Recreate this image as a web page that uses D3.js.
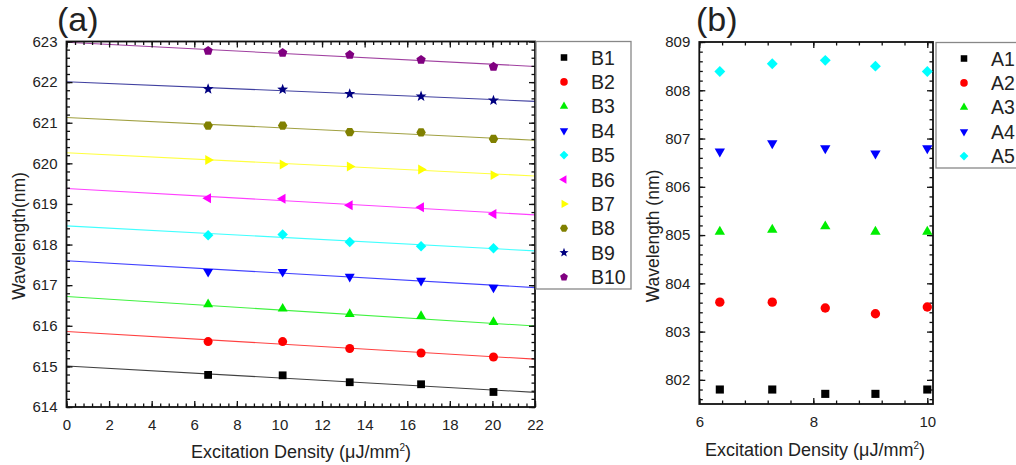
<!DOCTYPE html>
<html>
<head>
<meta charset="utf-8">
<script src="https://cdn.jsdelivr.net/npm/d3@7"></script>
<style>
  body { margin: 0; background: #fff; }
  text { font-family: "Liberation Sans", Arial, sans-serif; fill: #222; }
</style>
</head>
<body>
<script>
// panel (a): B peaks with linear fits
const xB = [6.65, 10.15, 13.3, 16.65, 20.05];
const namesB = ["B1", "B2", "B3", "B4", "B5", "B6", "B7", "B8", "B9", "B10"];
const valuesB = [
  [614.79, 614.78, 614.61, 614.56, 614.37],
  [615.61, 615.61, 615.44, 615.33, 615.23],
  [616.53, 616.42, 616.29, 616.24, 616.09],
  [617.33, 617.33, 617.21, 617.11, 616.94],
  [618.23, 618.25, 618.06, 617.96, 617.91],
  [619.14, 619.13, 618.97, 618.92, 618.75],
  [620.08, 619.97, 619.92, 619.85, 619.71],
  [620.93, 620.93, 620.77, 620.76, 620.60],
  [621.83, 621.82, 621.71, 621.65, 621.55],
  [622.77, 622.72, 622.67, 622.55, 622.38]
];
const fitIntercept = [615.01, 615.86, 616.72, 617.60, 618.46, 619.38, 620.26, 621.13, 622.01, 622.98];
const fitSlope = [-0.0295, -0.031, -0.033, -0.030, -0.028, -0.0295, -0.026, -0.0255, -0.022, -0.027];

// panel (b): A peaks
const xA = [6.36, 7.28, 8.21, 9.09, 10.0];
const namesA = ["A1", "A2", "A3", "A4", "A5"];
const valuesA = [
  [801.80, 801.80, 801.71, 801.71, 801.80],
  [803.61, 803.61, 803.49, 803.37, 803.51],
  [805.07, 805.11, 805.18, 805.07, 805.07],
  [806.73, 806.90, 806.80, 806.69, 806.80],
  [808.39, 808.55, 808.62, 808.50, 808.39]
];

const colors = ["#000000", "#ff0000", "#00ee00", "#0000ff", "#00ffff", "#ff00ff", "#ffff00", "#808000", "#000080", "#800080"];
const shapes = ["square", "circle", "up", "down", "diamond", "left", "right", "hexagon", "star", "pentagon"];

const W = 1016, H = 465;
const svg = d3.select("body").append("svg").attr("width", W).attr("height", H);

// marker path builder
function polygon(n, r, rot) {
  const pts = d3.range(n).map(i => {
    const a = rot + i * 2 * Math.PI / n;
    return [r * Math.cos(a), r * Math.sin(a)];
  });
  return "M" + pts.map(p => p.join(",")).join("L") + "Z";
}
function marker(shape, s) {
  switch (shape) {
    case "square": return `M${-0.78*s},${-0.78*s}h${1.56*s}v${1.56*s}h${-1.56*s}Z`;
    case "circle": return d3.symbol(d3.symbolCircle, Math.PI * (0.9*s) * (0.9*s))();
    case "up": return polygon(3, 1.15*s, -Math.PI / 2);
    case "down": return polygon(3, 1.15*s, Math.PI / 2);
    case "left": return polygon(3, 1.15*s, Math.PI);
    case "right": return polygon(3, 1.15*s, 0);
    case "diamond": return polygon(4, 1.05*s, -Math.PI / 2);
    case "hexagon": return polygon(6, 0.95*s, 0);
    case "pentagon": return polygon(5, 0.98*s, -Math.PI / 2);
    case "star": {
      const pts = d3.range(10).map(i => {
        const r = i % 2 === 0 ? 1.15*s : 0.48*s;
        const a = -Math.PI / 2 + i * Math.PI / 5;
        return [r * Math.cos(a), r * Math.sin(a)];
      });
      return "M" + pts.map(p => p.join(",")).join("L") + "Z";
    }
  }
}

// draws a framed panel with inward ticks on all four sides
function drawFrame(g, x, y, xMajor, xMinor, yMajor, yMinor) {
  const [x0, x1] = x.range();
  const [y1, y0] = y.range();
  const majorLen = 6, minorLen = 3.5;

  g.append("g").attr("transform", `translate(0,${y1})`)
    .call(d3.axisBottom(x).tickValues(xMinor).tickSize(-minorLen).tickFormat(""));
  g.append("g").attr("transform", `translate(0,${y1})`)
    .call(d3.axisBottom(x).tickValues(xMajor).tickSize(-majorLen).tickPadding(12).tickFormat(d3.format("d")));
  g.append("g").attr("transform", `translate(0,${y0})`)
    .call(d3.axisTop(x).tickValues(xMinor).tickSize(-minorLen).tickFormat(""));
  g.append("g").attr("transform", `translate(0,${y0})`)
    .call(d3.axisTop(x).tickValues(xMajor).tickSize(-majorLen).tickFormat(""));

  g.append("g").attr("transform", `translate(${x0},0)`)
    .call(d3.axisLeft(y).tickValues(yMinor).tickSize(-minorLen).tickFormat(""));
  g.append("g").attr("transform", `translate(${x0},0)`)
    .call(d3.axisLeft(y).tickValues(yMajor).tickSize(-majorLen).tickPadding(9).tickFormat(d3.format("d")));
  g.append("g").attr("transform", `translate(${x1},0)`)
    .call(d3.axisRight(y).tickValues(yMinor).tickSize(-minorLen).tickFormat(""));
  g.append("g").attr("transform", `translate(${x1},0)`)
    .call(d3.axisRight(y).tickValues(yMajor).tickSize(-majorLen).tickFormat(""));

  g.selectAll(".domain").remove();
  g.selectAll(".tick line").attr("stroke", "#111").attr("stroke-width", 1.3);
  g.selectAll(".tick text").style("font-size", "15px").attr("fill", "#222")
    .style("font-family", "'Liberation Sans', Arial, sans-serif");

  g.append("rect")
    .attr("x", x0).attr("y", y0)
    .attr("width", x1 - x0).attr("height", y1 - y0)
    .attr("fill", "none").attr("stroke", "#111").attr("stroke-width", 1.8);
}

function drawLegend(g, left, top, width, names) {
  const rowH = 24.4;
  g.append("rect")
    .attr("x", left).attr("y", top)
    .attr("width", width).attr("height", names.length * rowH + 3.5)
    .attr("fill", "#fff").attr("stroke", "#888").attr("stroke-width", 1.3);
  names.forEach((n, i) => {
    const cy = top + 16 + i * rowH;
    g.append("path")
      .attr("d", marker(shapes[i], 4.2))
      .attr("transform", `translate(${left + 28},${cy})`)
      .attr("fill", colors[i]);
    g.append("text")
      .attr("x", left + 55).attr("y", cy + 7)
      .style("font-size", "19.5px")
      .text(n);
  });
}

// ---------- panel (a) ----------
const xa = d3.scaleLinear().domain([0, 22]).range([66.5, 535]);
const ya = d3.scaleLinear().domain([614, 623]).range([407, 41.5]);
const ga = svg.append("g");

// fit lines
const line = d3.line().x(d => xa(d[0])).y(d => ya(d[1]));
namesB.forEach((n, i) => {
  const pts = [0, 22].map(xv => [xv, fitIntercept[i] + fitSlope[i] * xv]);
  ga.append("path").attr("d", line(pts))
    .attr("fill", "none").attr("stroke", colors[i])
    .attr("stroke-width", 1.1).attr("stroke-opacity", 0.75);
});

drawFrame(ga, xa, ya,
  d3.range(0, 23, 2), d3.range(0, 22.01, 0.4),
  d3.range(614, 624, 1), d3.range(614, 623.01, 0.2));

namesB.forEach((n, i) => {
  ga.append("g").selectAll("path")
    .data(valuesB[i].map((v, j) => [xB[j], v]))
    .enter().append("path")
    .attr("d", marker(shapes[i], 5))
    .attr("transform", d => `translate(${xa(d[0])},${ya(d[1])})`)
    .attr("fill", colors[i]);
});

drawLegend(ga, 536, 41.5, 95, namesB);

ga.append("text").attr("x", 57).attr("y", 31)
  .style("font-size", "34px").text("(a)");
ga.append("text")
  .attr("transform", `translate(25,236) rotate(-90)`)
  .attr("text-anchor", "middle").style("font-size", "17.5px")
  .text("Wavelength(nm)");
const xla = ga.append("text").attr("x", 301).attr("y", 458)
  .attr("text-anchor", "middle").style("font-size", "18px");
xla.append("tspan").text("Excitation Density (μJ/mm");
xla.append("tspan").attr("dy", -7).style("font-size", "10px").text("2");
xla.append("tspan").attr("dy", 7).text(")");

// ---------- panel (b) ----------
const xbS = d3.scaleLinear().domain([6, 10.1]).range([699.3, 933]);
const ybS = d3.scaleLinear().domain([801.5, 809]).range([404, 42]);
const gb = svg.append("g");

drawFrame(gb, xbS, ybS,
  [6, 8, 10], d3.range(6, 10.11, 0.4),
  d3.range(802, 810, 1), d3.range(801.6, 809.01, 0.2));

namesA.forEach((n, i) => {
  gb.append("g").selectAll("path")
    .data(valuesA[i].map((v, j) => [xA[j], v]))
    .enter().append("path")
    .attr("d", marker(shapes[i], 5.2))
    .attr("transform", d => `translate(${xbS(d[0])},${ybS(d[1])})`)
    .attr("fill", colors[i]);
});

drawLegend(gb, 936, 42.5, 100, namesA);

gb.append("text").attr("x", 696).attr("y", 31)
  .style("font-size", "34px").text("(b)");
gb.append("text")
  .attr("transform", `translate(659,236) rotate(-90)`)
  .attr("text-anchor", "middle").style("font-size", "17.5px")
  .text("Wavelength (nm)");
const xlb = gb.append("text").attr("x", 815).attr("y", 456)
  .attr("text-anchor", "middle").style("font-size", "18px");
xlb.append("tspan").text("Excitation Density (μJ/mm");
xlb.append("tspan").attr("dy", -7).style("font-size", "10px").text("2");
xlb.append("tspan").attr("dy", 7).text(")");
</script>
</body>
</html>
